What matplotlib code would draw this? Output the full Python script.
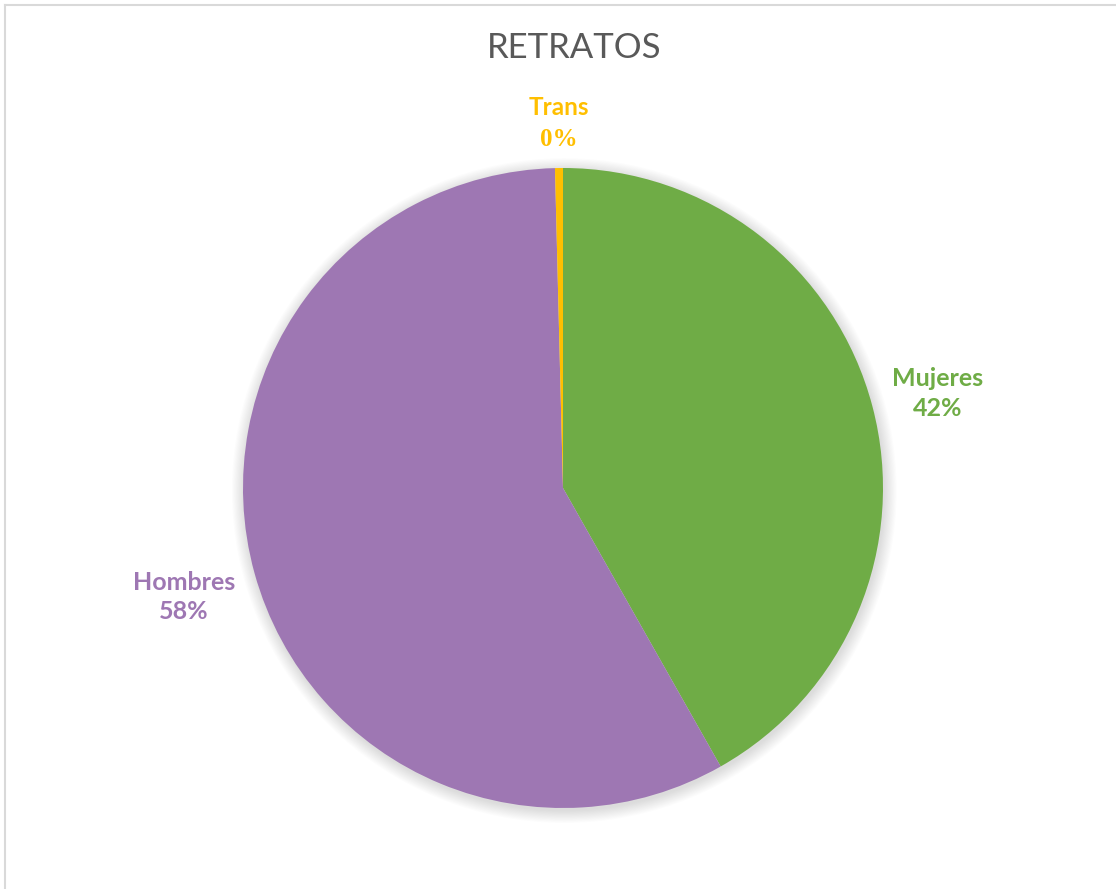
import numpy as np
import matplotlib
matplotlib.use('Agg')
import matplotlib.pyplot as plt
from matplotlib.patches import Circle

# Datos del gráfico
categorias = ['Mujeres', 'Hombres', 'Trans']
valores = [41.8, 57.8, 0.4]
etiquetas_pct = ['42%', '58%', '0%']
colores = ['#6FAC46', '#9E77B3', '#FFBF00']

fig = plt.figure(figsize=(11.16, 8.89), dpi=100)
fig.patch.set_facecolor('white')

# Marco gris claro (solo arriba e izquierda visibles)
fig.add_artist(plt.Line2D([5 / 1116, 1], [1 - 5 / 889, 1 - 5 / 889], color='#D9D9D9', lw=1.5))
fig.add_artist(plt.Line2D([5 / 1116, 5 / 1116], [0, 1 - 5 / 889], color='#D9D9D9', lw=1.5))

# Título
fig.text(574 / 1116, 1 - 48 / 889, 'RETRATOS', ha='center', va='center',
         fontsize=25, color='#595959', family='Lato')

# Ejes del pastel
cx, cy, r = 563, 488, 320
ax = fig.add_axes([(cx - r) / 1116, (889 - cy - r) / 889, 2 * r / 1116, 2 * r / 889])
ax.axis('off')

# Sombra suave
for i in range(12):
    ax.add_patch(Circle((0.004, -0.008), 1 + 0.0035 * i, color='#8a8a8a',
                        alpha=0.025, lw=0, zorder=0, clip_on=False))

wedges, _ = ax.pie(valores, colors=colores, startangle=90, counterclock=False,
                   radius=1, wedgeprops=dict(linewidth=0))
for w in wedges:
    w.set_zorder(2)
ax.set_xlim(-1, 1)
ax.set_ylim(-1, 1)
ax.set_aspect('equal')

# Etiquetas
distancias = [1.21, 1.23, 1.14]
total = sum(valores)
acum = 0
for i, (cat, v) in enumerate(zip(categorias, valores)):
    medio = acum + v / 2
    acum += v
    ang = np.deg2rad(90 - 360 * medio / total)
    x = distancias[i] * np.cos(ang)
    y = distancias[i] * np.sin(ang)
    if cat == 'Trans':
        ax.text(x, y + 0.048, cat, ha='center', va='center', fontsize=17.5,
                fontweight='bold', color=colores[i], family='Lato', clip_on=False)
        ax.text(x, y - 0.05, etiquetas_pct[i], ha='center', va='center', fontsize=18,
                fontweight='bold', color=colores[i], family='Liberation Serif', clip_on=False)
    else:
        ax.text(x, y - 0.012, cat + '\n' + etiquetas_pct[i], ha='center', va='center',
                fontsize=18, fontweight='bold', color=colores[i], family='Lato',
                linespacing=1.35, clip_on=False)

fig.savefig('out.png', dpi=100, facecolor='white')
